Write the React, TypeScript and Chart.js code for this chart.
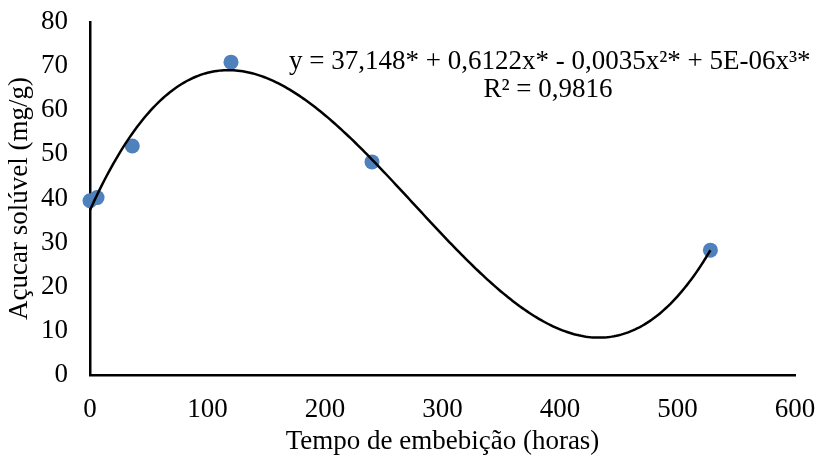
import React, { useEffect, useRef } from "react";
import { Chart, registerables } from "chart.js";

Chart.register(...registerables);

const hours = [0, 6, 36, 120, 240, 528];
const sugar = [39.5, 40.2, 51.9, 70.9, 48.3, 28.3];
const equationText = "y = 37,148* + 0,6122x* - 0,0035x²* + 5E-06x³*";
const r2Text = "R² = 0,9816";
const xTitle = "Tempo de embebição (horas)";
const yTitle = "Açucar solúvel (mg/g)";

const FONT = "'Liberation Serif', 'Times New Roman', serif";
const FS = 27;

// least-squares cubic fit of the data (like an Excel polynomial trendline)
function cubicFit(xs: number[], ys: number[]): number[] {
  const n = 4;
  const s = 100;
  const A: number[][] = Array.from({ length: n }, () => new Array(n + 1).fill(0));
  for (let k = 0; k < xs.length; k++) {
    const u = xs[k] / s;
    const pw = [1, u, u * u, u * u * u];
    for (let i = 0; i < n; i++) {
      for (let j = 0; j < n; j++) A[i][j] += pw[i] * pw[j];
      A[i][n] += pw[i] * ys[k];
    }
  }
  for (let c = 0; c < n; c++) {
    let p = c;
    for (let r = c + 1; r < n; r++) if (Math.abs(A[r][c]) > Math.abs(A[p][c])) p = r;
    [A[c], A[p]] = [A[p], A[c]];
    for (let r = 0; r < n; r++) {
      if (r === c) continue;
      const f = A[r][c] / A[c][c];
      for (let k = c; k <= n; k++) A[r][k] -= f * A[c][k];
    }
  }
  const b = A.map((row, i) => row[n] / row[i]);
  return [b[0], b[1] / s, b[2] / (s * s), b[3] / (s * s * s)];
}

export default function App() {
  const ref = useRef<HTMLCanvasElement | null>(null);
  useEffect(() => {
    if (!ref.current) return;
    const coef = cubicFit(hours, sugar);
    const xMin = Math.min(...hours);
    const xMax = Math.max(...hours);
    const curve: { x: number; y: number }[] = [];
    for (let x = xMin; x <= xMax; x += 2) {
      curve.push({ x, y: coef[0] + coef[1] * x + coef[2] * x * x + coef[3] * x * x * x });
    }
    const textPlugin = {
      id: "eqText",
      afterDraw(chart: any) {
        const ctx = chart.ctx;
        ctx.save();
        ctx.fillStyle = "#000";
        ctx.font = `${FS}px ${FONT}`;
        ctx.textBaseline = "middle";
        ctx.textAlign = "left";
        ctx.fillText(equationText, 289, 62);
        ctx.textAlign = "center";
        ctx.fillText(r2Text, 548, 90);
        ctx.restore();
      },
    };
    const chart = new Chart(ref.current, {
      type: "scatter",
      data: {
        datasets: [
          {
            type: "line",
            data: curve,
            borderColor: "#000",
            borderWidth: 2.5,
            pointRadius: 0,
            fill: false,
            tension: 0,
            order: 0,
            clip: false,
          } as any,
          {
            data: hours.map((x, i) => ({ x, y: sugar[i] })),
            backgroundColor: "#4F81BD",
            borderColor: "#4F81BD",
            pointRadius: 7.5,
            borderWidth: 0,
            order: 1,
            clip: false,
          } as any,
        ],
      },
      options: {
        animation: false,
        responsive: false,
        layout: { padding: { left: 0, right: 23, top: 22, bottom: 0 } },
        plugins: { legend: { display: false }, tooltip: { enabled: false } },
        scales: {
          x: {
            type: "linear",
            min: 0,
            max: 600,
            ticks: { stepSize: 100, color: "#000", font: { family: FONT, size: FS }, padding: 19 },
            grid: { display: false, drawTicks: false },
            border: { color: "#000", width: 2.5 },
            title: { display: true, text: xTitle, color: "#000", font: { family: FONT, size: FS }, padding: { top: 1, bottom: 0 } },
            afterFit: (s: any) => {
              s.height = 458 - 375;
              s.paddingLeft = 0;
              s.paddingRight = 0;
            },
          },
          y: {
            min: 0,
            max: 80,
            ticks: { stepSize: 10, color: "#000", font: { family: FONT, size: FS }, padding: 22 },
            grid: { display: false, drawTicks: false },
            border: { color: "#000", width: 2.5 },
            title: { display: true, text: yTitle, color: "#000", font: { family: FONT, size: FS }, padding: { top: 4, bottom: 2 } },
            afterFit: (s: any) => {
              s.width = 90;
              s.paddingTop = 0;
              s.paddingBottom = 0;
            },
          },
        },
      },
      plugins: [textPlugin],
    });
    return () => chart.destroy();
  }, []);
  return (
    <div style={{ position: "fixed", left: 0, top: 0, width: 818, height: 458, background: "#fff" }}>
      <canvas ref={ref} width={818} height={458} />
    </div>
  );
}
